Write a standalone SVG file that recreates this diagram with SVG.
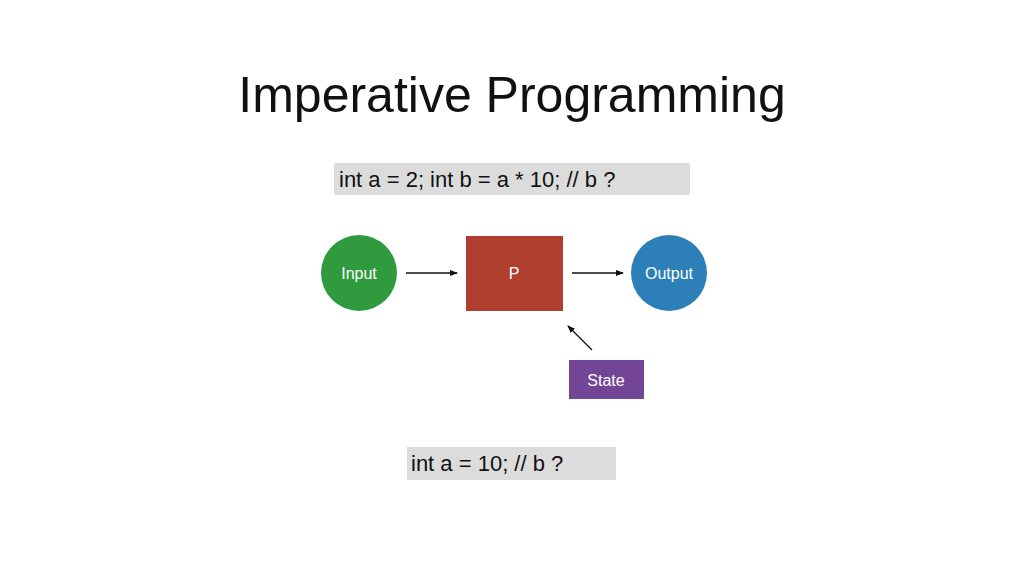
<svg xmlns="http://www.w3.org/2000/svg" width="1024" height="576" viewBox="0 0 1024 576">
<style>
text{font-family:"Liberation Sans",Arial,sans-serif}
.w{fill:#fff;font-size:16px;text-anchor:middle}
.code{fill:#111;font-size:22px}
.ln{stroke:#111;stroke-width:1.3;fill:none;marker-end:url(#a)}
</style>
<defs><marker id="a" markerWidth="8" markerHeight="6" refX="7" refY="3" orient="auto" markerUnits="userSpaceOnUse"><path d="M0,0L8,3L0,6z" fill="#111"/></marker></defs>
<rect width="1024" height="576" fill="#fff"/>
<text x="512" y="112" font-size="50" text-anchor="middle" fill="#111">Imperative Programming</text>
<g id="code1"><rect x="334" y="163" width="356" height="32" fill="#dcdcdc"/><text class="code" x="339" y="187">int a = 2; int b = a * 10; //  b ?</text></g>
<g id="code2"><rect x="407" y="447" width="209" height="33" fill="#dcdcdc"/><text class="code" x="411" y="471">int a = 10;  //  b ?</text></g>
<g id="connectors">
<line class="ln" x1="406" y1="273" x2="457" y2="273"/>
<line class="ln" x1="572" y1="273" x2="623" y2="273"/>
<line class="ln" x1="592" y1="350" x2="568" y2="326"/>
</g>
<g id="input"><circle cx="359" cy="273" r="38" fill="#2f9a3e"/><text class="w" x="359" y="279">Input</text></g>
<g id="p"><rect x="466" y="236" width="97" height="75" fill="#b03f2f"/><text class="w" x="514" y="279">P</text></g>
<g id="output"><circle cx="669" cy="273" r="38" fill="#2d7fb8"/><text class="w" x="669" y="279">Output</text></g>
<g id="state"><rect x="569" y="360" width="75" height="39" fill="#734596"/><text class="w" x="606" y="386">State</text></g>
</svg>
